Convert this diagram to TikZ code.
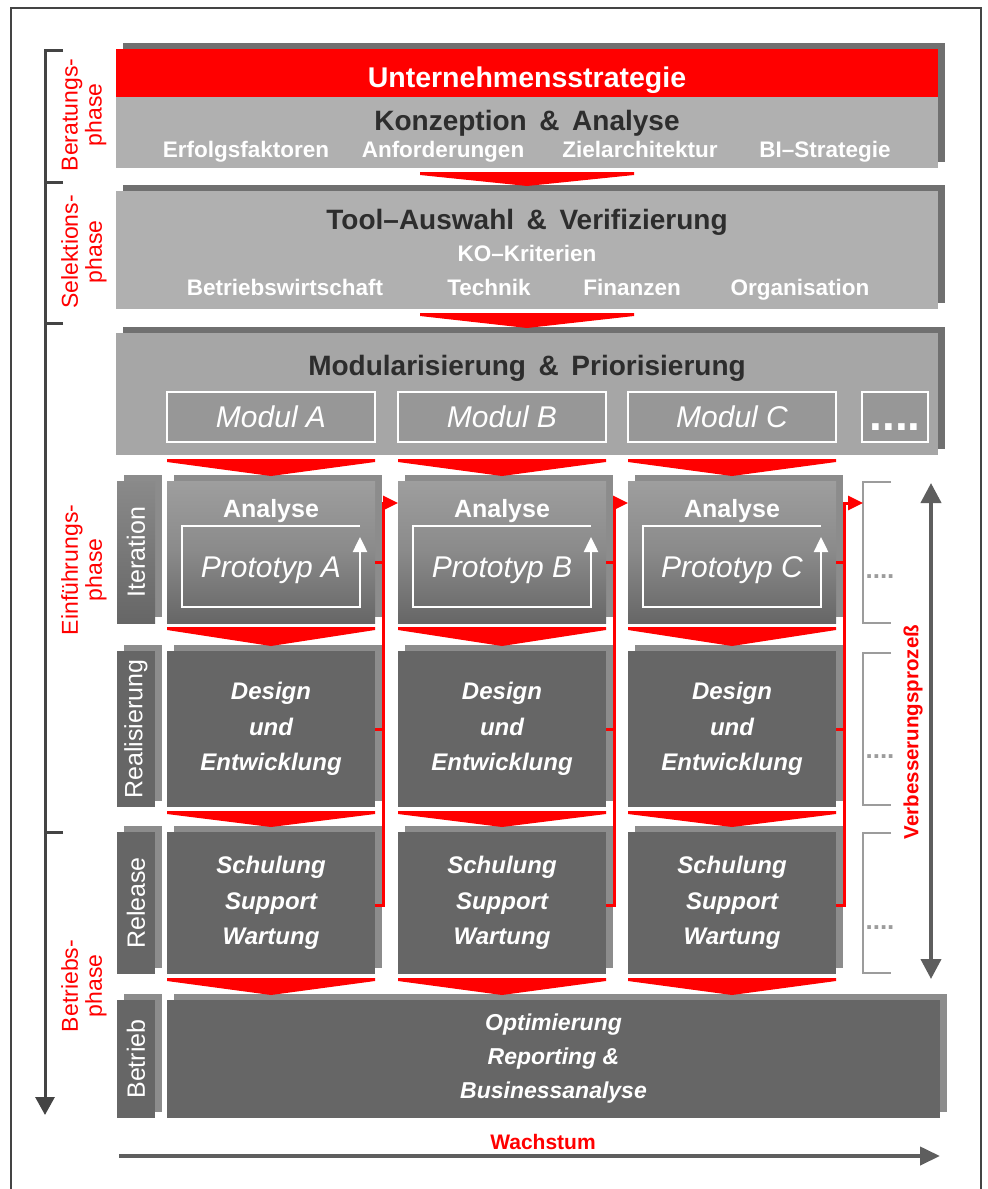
\documentclass[tikz,border=0pt]{standalone}
\usepackage{fontspec}
\setmainfont{Liberation Sans}
\usetikzlibrary{calc,shadows,arrows.meta}

\definecolor{stratred}{HTML}{FF0000}
\definecolor{lightfill}{HTML}{B0B0B0}
\definecolor{modfill}{HTML}{A6A6A6}
\definecolor{modinner}{HTML}{979797}
\definecolor{darkfill}{HTML}{666666}
\definecolor{anatop}{HTML}{9E9E9E}
\definecolor{anamid}{HTML}{8A8A8A}
\definecolor{shadowdark}{HTML}{707070}
\definecolor{shadowlight}{HTML}{8C8C8C}
\definecolor{headgray}{HTML}{2D2D2D}
\definecolor{framegray}{HTML}{444444}
\definecolor{arrowgray}{HTML}{5E5E5E}
\definecolor{brackgray}{HTML}{9C9C9C}

\newcommand\sepamp{\hspace{0.45em}\&\hspace{0.45em}}
% red chevron between two boxes: top point, tip point, half width
\newcommand\chevron[3]{%
  \fill[stratred] ($#1+(-#3,4)$) -- ($#1+(#3,4)$) -- ($#1+(#3,7)$)
    -- ($#2+(0,-5)$) -- ($#1+(-#3,7)$) -- cycle;}

\tikzset{
  box/.style={rectangle,inner sep=0pt,outer sep=0pt},
  capline/.style={text height=#1,text depth=0pt},
  shadowed/.style={general shadow={shadow xshift=7pt,shadow yshift=6pt,fill=#1}},
  widebox/.style={box,minimum width=822pt,minimum height=#1},
  colbox/.style={box,fill=darkfill,minimum width=208pt,shadowed=shadowlight,
    text=white,align=center,font=\bfseries\itshape\fontsize{24}{35.5}\selectfont},
  anabox/.style={box,minimum width=208pt,minimum height=142pt,shadowed=shadowlight,
    top color=anatop,bottom color=darkfill,middle color=anamid},
  labbox/.style={box,fill=darkfill,minimum width=38pt,shadowed=shadowlight},
  labtext/.style={rotate=90,text=white,font=\fontsize{25}{28}\selectfont},
  phasetext/.style={rotate=90,text=stratred,align=center,font=\fontsize{23}{24}\selectfont},
  phaseline/.style={draw=framegray,line width=3pt},
  headtext/.style={capline=20pt,text=headgray,font=\bfseries\fontsize{28}{30}\selectfont},
  subtext/.style={capline=16pt,text=white,font=\bfseries\fontsize{22.5}{24}\selectfont},
  modbox/.style={box,draw=white,line width=2.5pt,fill=modinner,minimum width=208pt,
    minimum height=50pt,text=white,font=\itshape\fontsize{30}{30}\selectfont},
  anatext/.style={capline=18pt,text=white,font=\bfseries\fontsize{25}{26}\selectfont},
  prottext/.style={box,capline=21.5pt,minimum width=178pt,minimum height=81pt,text=white,
    font=\itshape\fontsize{30}{30}\selectfont},
  protframe/.style={draw=white,line width=2.5pt,-{Triangle[width=14pt,length=15pt]}},
  fbline/.style={draw=stratred,line width=3pt},
  fbarrow/.style={fbline,-{Triangle[width=14pt,length=15pt]}},
  brackbox/.style={box,minimum width=28pt},
  brackframe/.style={draw=brackgray,line width=2.5pt},
  dotstext/.style={text=brackgray,font=\bfseries\fontsize{26}{26}\selectfont},
  grayarrow/.style={draw=arrowgray,line width=4pt}
}

\begin{document}
\begin{tikzpicture}[x=1pt,y=-1pt]
\useasboundingbox (0,0) rectangle (988,1189);
\draw[framegray,line width=2.5pt] (11,1189) -- (11,8) -- (981,8) -- (981,1189);

% phases
\coordinate (pt1) at (63,50);
\coordinate (pt2) at (63,182);
\coordinate (pt3) at (63,323);
\coordinate (pt4) at (63,832);
\coordinate (pend) at (45,1115);
\draw[phaseline,-{Triangle[width=19pt,length=18pt]}] (pt1) -- (pt1 -| pend) -- (pend);
\draw[phaseline] (pt2) -- (pt2 -| pend);
\draw[phaseline] (pt3) -- (pt3 -| pend);
\draw[phaseline] (pt4) -- (pt4 -| pend);
\node[phasetext] (phase1) at (84,115) {Beratungs-\\phase};
\node[phasetext] (phase2) at (84,252) {Selektions-\\phase};
\node[phasetext] (phase3) at (84,570) {Einführungs-\\phase};
\node[phasetext] (phase4) at (84,986) {Betriebs-\\phase};

% Konzeption
\node[widebox=119pt,fill=lightfill,shadowed=shadowdark] (konz) at (527,108.5) {};
\node[widebox=48pt,fill=stratred] (strat) at (527,73) {};
\node[headtext,text=white,font=\bfseries\fontsize{28.5}{30}\selectfont] (stratT) at (527,77) {Unternehmensstrategie};
\node[headtext] (konzT) at (527,120.5) {Konzeption\sepamp Analyse};
\node[subtext] (erf) at (246,149.5) {Erfolgsfaktoren};
\node[subtext] (anf) at (443,149.5) {Anforderungen};
\node[subtext] (ziel) at (640,149.5) {Zielarchitektur};
\node[subtext] (bis) at (825,149.5) {BI–Strategie};

% Tool
\node[widebox=118pt,fill=lightfill,shadowed=shadowdark] (tool) at (527,250) {};
\node[headtext] (toolT) at (527,219) {Tool–Auswahl\sepamp Verifizierung};
\node[subtext] (ko) at (527,253) {KO–Kriterien};
\node[subtext] (bw) at (285,287) {Betriebswirtschaft};
\node[subtext] (tech) at (489,287) {Technik};
\node[subtext] (fin) at (632,287) {Finanzen};
\node[subtext] (org) at (800,287) {Organisation};

% Module
\node[widebox=122pt,fill=modfill,shadowed=shadowdark] (modul) at (527,394) {};
\node[headtext] (modT) at (527,365) {Modularisierung\sepamp Priorisierung};
\node[modbox] (modA) at (271,417) {Modul A};
\node[modbox] (modB) at (502,417) {Modul B};
\node[modbox] (modC) at (732,417) {Modul C};
\node[modbox,minimum width=66pt] (modD) at (895,417) {};
\node[text=white,font=\bfseries\fontsize{46}{46}\selectfont] (modDT) at (895,427) {....};

% row labels
\node[labbox,minimum height=142pt,top color=anamid,bottom color=darkfill] (itL) at (136,552) {};
\node[labtext] (itLT) at (136,552) {Iteration};
\node[labbox,minimum height=156pt] (reaL) at (136,729) {};
\node[labtext] (reaLT) at (136,729) {Realisierung};
\node[labbox,minimum height=142pt] (relL) at (136,903) {};
\node[labtext] (relLT) at (136,903) {Release};
\node[labbox,minimum height=118pt] (betL) at (136,1059) {};
\node[labtext] (betLT) at (136,1059) {Betrieb};

% Iteration
\node[anabox] (anaA) at (271,552) {};
\node[anabox] (anaB) at (502,552) {};
\node[anabox] (anaC) at (732,552) {};
\node[anatext] (anaAT) at (271,508) {Analyse};
\node[anatext] (anaBT) at (502,508) {Analyse};
\node[anatext] (anaCT) at (732,508) {Analyse};
\node[prottext] (protA) at (271,566.5) {Prototyp A};
\node[prottext] (protB) at (502,566.5) {Prototyp B};
\node[prottext] (protC) at (732,566.5) {Prototyp C};
\draw[protframe] (protA.north east) -- (protA.north west) -- (protA.south west) -- (protA.south east) -- ($(protA.north east)+(0,11)$);
\draw[protframe] (protB.north east) -- (protB.north west) -- (protB.south west) -- (protB.south east) -- ($(protB.north east)+(0,11)$);
\draw[protframe] (protC.north east) -- (protC.north west) -- (protC.south west) -- (protC.south east) -- ($(protC.north east)+(0,11)$);

% Realisierung, Release, Betrieb
\node[colbox,minimum height=156pt] (desA) at (271,729) {Design\\und\\Entwicklung};
\node[colbox,minimum height=156pt] (desB) at (502,729) {Design\\und\\Entwicklung};
\node[colbox,minimum height=156pt] (desC) at (732,729) {Design\\und\\Entwicklung};
\node[colbox,minimum height=142pt] (relA) at (271,903) {Schulung\\Support\\Wartung};
\node[colbox,minimum height=142pt] (relB) at (502,903) {Schulung\\Support\\Wartung};
\node[colbox,minimum height=142pt] (relC) at (732,903) {Schulung\\Support\\Wartung};
\node[colbox,minimum width=773pt,minimum height=118pt,font=\bfseries\itshape\fontsize{23}{34}\selectfont] (betr) at (553.5,1059) {Optimierung\\Reporting \&\\Businessanalyse};

% chevrons
\chevron{(konz.south)}{(tool.north)}{107}
\chevron{(tool.south)}{(modul.north)}{107}
\chevron{(anaA.north |- modul.south)}{(anaA.north)}{104}
\chevron{(anaB.north |- modul.south)}{(anaB.north)}{104}
\chevron{(anaC.north |- modul.south)}{(anaC.north)}{104}
\chevron{(anaA.south)}{(desA.north)}{104}
\chevron{(anaB.south)}{(desB.north)}{104}
\chevron{(anaC.south)}{(desC.north)}{104}
\chevron{(desA.south)}{(relA.north)}{104}
\chevron{(desB.south)}{(relB.north)}{104}
\chevron{(desC.south)}{(relC.north)}{104}
\chevron{(relA.south)}{(relA.south |- betr.north)}{104}
\chevron{(relB.south)}{(relB.south |- betr.north)}{104}
\chevron{(relC.south)}{(relC.south |- betr.north)}{104}

% placeholders
\node[brackbox,minimum height=141pt] (br1) at (877,552.5) {};
\node[brackbox,minimum height=152pt] (br2) at (877,729) {};
\node[brackbox,minimum height=140pt] (br3) at (877,903) {};
\draw[brackframe] (br1.north east) -- (br1.north west) -- (br1.south west) -- (br1.south east);
\draw[brackframe] (br2.north east) -- (br2.north west) -- (br2.south west) -- (br2.south east);
\draw[brackframe] (br3.north east) -- (br3.north west) -- (br3.south west) -- (br3.south east);
\node[dotstext] (dots1) at (880,577) {....};
\node[dotstext] (dots2) at (880,757) {....};
\node[dotstext] (dots3) at (880,928) {....};

% feedback
\draw[fbarrow] ($(relA.east)+(0,2)$) -- ++(8,0) |- ($(anaB.north west)+(0,22)$);
\draw[fbline] ($(anaA.east)+(0,10)$) -- ++(8,0);
\draw[fbline] (desA.east) -- ++(8,0);
\draw[fbarrow] ($(relB.east)+(0,2)$) -- ++(8,0) |- ($(anaC.north west)+(0,22)$);
\draw[fbline] ($(anaB.east)+(0,10)$) -- ++(8,0);
\draw[fbline] (desB.east) -- ++(8,0);
\draw[fbarrow] ($(relC.east)+(0,2)$) -- ++(8,0) |- ($(br1.north west)+(0,21)$);
\draw[fbline] ($(anaC.east)+(0,10)$) -- ++(8,0);
\draw[fbline] (desC.east) -- ++(8,0);

% Verbesserung
\coordinate (vtop) at (931,483);
\coordinate (vbot) at (931,979);
\draw[grayarrow,{Triangle[width=20pt,length=20pt]}-{Triangle[width=20pt,length=20pt]}] (vtop) -- (vbot);
\node[rotate=90,text=stratred,font=\bfseries\fontsize{20.5}{21}\selectfont] (verb) at (913,732) {Verbesserungsprozeß};

% Wachstum
\coordinate (wl) at (119,1156);
\coordinate (wr) at (940,1156);
\draw[grayarrow,-{Triangle[width=18pt,length=20pt]}] (wl) -- (wr);
\node[text=stratred,font=\bfseries\fontsize{21}{22}\selectfont] (wachs) at (543,1142) {Wachstum};
\end{tikzpicture}
\end{document}
